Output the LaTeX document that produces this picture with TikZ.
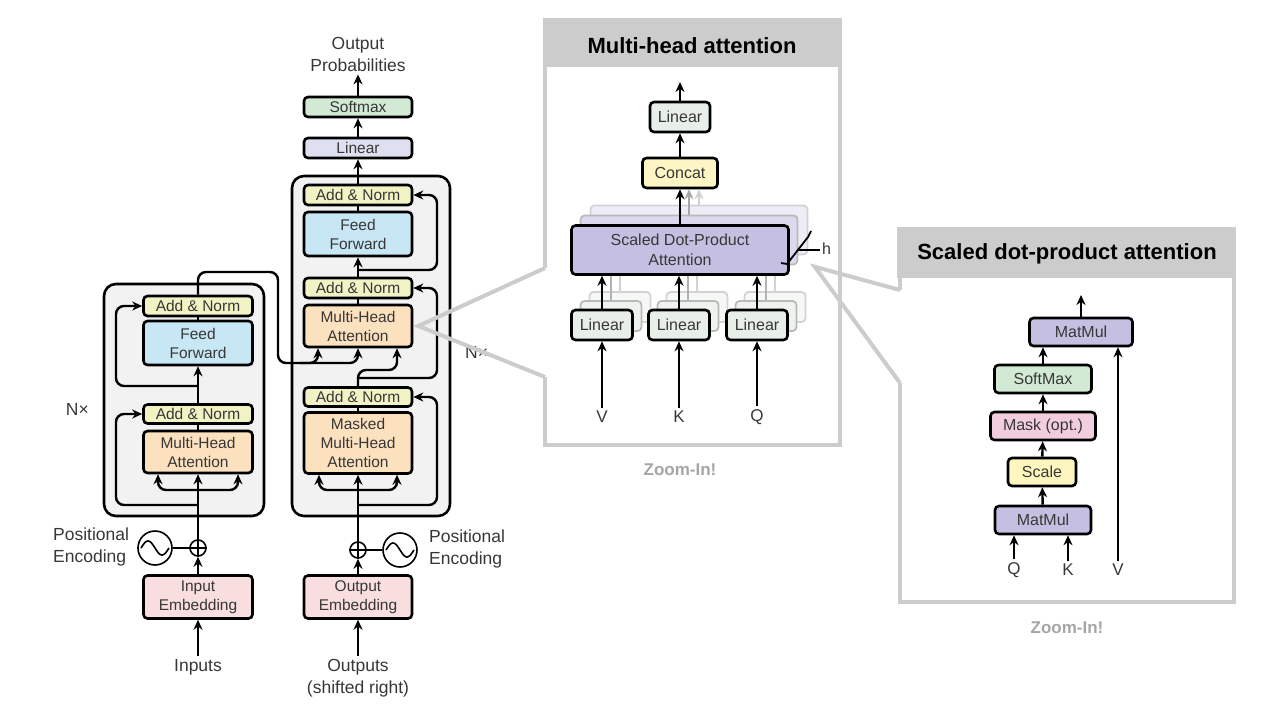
\documentclass[tikz,border=0pt]{standalone}
\usepackage{fontspec}
\setmainfont{Liberation Sans}
\usetikzlibrary{arrows.meta}

\definecolor{stackc}{RGB}{242,242,242}
\definecolor{addnormc}{RGB}{242,243,196}
\definecolor{ffwdc}{RGB}{199,231,245}
\definecolor{mhac}{RGB}{252,225,191}
\definecolor{embedc}{RGB}{248,222,222}
\definecolor{softmaxc}{RGB}{210,233,212}
\definecolor{declinc}{RGB}{222,223,240}
\definecolor{mhlinc}{RGB}{232,238,232}
\definecolor{concatc}{RGB}{253,246,196}
\definecolor{sdpac}{RGB}{197,192,226}
\definecolor{maskc}{RGB}{242,205,221}
\definecolor{scalec}{RGB}{253,246,190}
\definecolor{panelc}{RGB}{204,204,204}
\definecolor{txtc}{RGB}{55,55,55}
\definecolor{zoomc}{RGB}{165,165,165}

\begin{document}
\begin{tikzpicture}[x=1pt,y=-1pt,line width=2.4pt,
  >={Stealth[length=10pt,width=9pt]},
  lbl/.style={text=txtc,font=\fontsize{17.5}{22}\selectfont,inner sep=2pt},
  blk/.style={draw,line width=2.6pt,rounded corners=4pt,inner sep=0pt,align=center,
    text=txtc,font=\fontsize{15.5}{19}\selectfont},
  mhblk/.style={blk,font=\fontsize{16}{20}\selectfont},
  ghost/.style={draw=gray!55,line width=1.8pt,rounded corners=4pt,inner sep=0pt},
  stack/.style={draw,fill=stackc,line width=2.6pt,rounded corners=12pt},
  res/.style={->,rounded corners=8pt},
  panel/.style={draw=panelc,line width=4pt},
  title/.style={font=\fontsize{22}{25}\selectfont\bfseries,text=black},
  zoomtxt/.style={font=\fontsize{17}{20}\selectfont\bfseries,text=zoomc},
  thin/.style={line width=1.6pt}]
\useasboundingbox (0,0) rectangle (1280,717);

% encoder
\draw[stack] (104,284) rectangle (264,516);
\node[blk,fill=addnormc,minimum width=109pt,minimum height=20pt] (enc_an2) at (198,306) {Add \& Norm};
\node[blk,fill=ffwdc,minimum width=109pt,minimum height=44pt] (enc_ff) at (198,343) {Feed\\Forward};
\node[blk,fill=addnormc,minimum width=109pt,minimum height=19pt] (enc_an1) at (198,414) {Add \& Norm};
\node[blk,fill=mhac,minimum width=109pt,minimum height=42pt] (enc_mha) at (198,452) {Multi-Head\\Attention};
\node[blk,fill=embedc,minimum width=109pt,minimum height=43pt] (in_emb) at (198,597) {Input\\Embedding};
\node[circle,draw,thin,minimum size=16pt,inner sep=0pt] (enc_plus) at (198,548) {};
\node[circle,draw,thin,minimum size=34pt,inner sep=0pt] (enc_pe) at (155,548) {};
\draw[thin] (enc_plus.north) -- (enc_plus.south) (enc_plus.west) -- (enc_plus.east);
\draw[thin,shift={(enc_pe.center)}] plot[domain=-14:14,samples=40] (\x,{7*sin(12.86*\x)});
\node[lbl,anchor=west,align=left] (enc_pe_lbl) at (50,547) {Positional\\Encoding};
\node[lbl] (inputs) at (198,667) {Inputs};
\node[lbl,anchor=east] (enc_n) at (92,409) {N×};

\draw[->] (inputs) -- (in_emb);
\draw[->] (in_emb) -- (enc_plus);
\draw (enc_pe) -- (enc_plus);
\draw[->] (enc_plus) -- (enc_mha);
\coordinate (enc_split) at (198,490);
\draw[res] (enc_split) -| ([xshift=-40pt]enc_mha.south);
\draw[res] (enc_split) -| ([xshift=40pt]enc_mha.south);
\coordinate (enc_skip1) at (198,505);
\draw[res] (enc_skip1) -| (116,414) -- (enc_an1.west);
\draw (enc_mha) -- (enc_an1);
\draw[->] (enc_an1) -- (enc_ff);
\coordinate (enc_skip2) at (198,386);
\draw[res] (enc_skip2) -| (116,306) -- (enc_an2.west);
\draw (enc_ff) -- (enc_an2);

% decoder
\draw[stack] (292,176) rectangle (450,516);
\node[blk,fill=softmaxc,minimum width=108pt,minimum height=20pt] (softmax) at (358,107) {Softmax};
\node[blk,fill=declinc,minimum width=108pt,minimum height=20pt] (dlin) at (358,148) {Linear};
\node[blk,fill=addnormc,minimum width=108pt,minimum height=20pt] (dec_an3) at (358,195) {Add \& Norm};
\node[blk,fill=ffwdc,minimum width=108pt,minimum height=44pt] (dec_ff) at (358,234) {Feed\\Forward};
\node[blk,fill=addnormc,minimum width=108pt,minimum height=20pt] (dec_an2) at (358,288) {Add \& Norm};
\node[blk,fill=mhac,minimum width=108pt,minimum height=42pt] (dec_mha) at (358,326) {Multi-Head\\Attention};
\node[blk,fill=addnormc,minimum width=108pt,minimum height=19pt] (dec_an1) at (358,397) {Add \& Norm};
\node[blk,fill=mhac,minimum width=108pt,minimum height=61pt] (dec_mmha) at (358,443) {Masked\\Multi-Head\\Attention};
\node[blk,fill=embedc,minimum width=108pt,minimum height=43pt] (out_emb) at (358,597) {Output\\Embedding};
\node[circle,draw,thin,minimum size=16pt,inner sep=0pt] (dec_plus) at (358,550) {};
\node[circle,draw,thin,minimum size=34pt,inner sep=0pt] (dec_pe) at (400,550) {};
\draw[thin] (dec_plus.north) -- (dec_plus.south) (dec_plus.west) -- (dec_plus.east);
\draw[thin,shift={(dec_pe.center)}] plot[domain=-14:14,samples=40] (\x,{7*sin(12.86*\x)});
\node[lbl,anchor=west,align=left] (dec_pe_lbl) at (426,549) {Positional\\Encoding};
\node[lbl,align=center] (outputs) at (358,678) {Outputs\\(shifted right)};
\node[lbl,align=center] (probs) at (358,54) {Output\\Probabilities};
\node[lbl,anchor=west] (dec_n) at (462,352) {N×};

\draw[->] (outputs) -- (out_emb);
\draw[->] (out_emb) -- (dec_plus);
\draw (dec_pe) -- (dec_plus);
\draw[->] (dec_plus) -- (dec_mmha);
\coordinate (dec_split) at (358,490);
\draw[res] (dec_split) -| ([xshift=-39pt]dec_mmha.south);
\draw[res] (dec_split) -| ([xshift=39pt]dec_mmha.south);
\coordinate (dec_skip1) at (358,505);
\draw[res] (dec_skip1) -| (437,397) -- (dec_an1.east);
\draw (dec_mmha) -- (dec_an1);
\draw[res] (dec_an1.north) -- (358,370) -| ([xshift=39pt]dec_mha.south);
\coordinate (dec_skip2) at (358,378);
\draw[res] (dec_skip2) -| (437,288) -- (dec_an2.east);
\draw (dec_mha) -- (dec_an2);
\draw[->] (dec_an2) -- (dec_ff);
\coordinate (dec_skip3) at (358,270);
\draw[res] (dec_skip3) -| (437,195) -- (dec_an3.east);
\draw (dec_ff) -- (dec_an3);
\draw[->] (dec_an3) -- (dlin);
\draw[->] (dlin) -- (softmax);
\draw[->] (softmax) -- (probs);

% encoder output into the decoder
\draw[res] (enc_an2.north) |- (278,272) |- (318,363) -- ([xshift=-40pt]dec_mha.south);
\draw[res] (300,363) -| (dec_mha.south);

% multi-head attention panel
\fill[panelc] (543,18) rectangle (842,67);
\draw[panel] (545,268) |- (840,20) |- (545,445) -- (545,377);
\node[title] (mh_title) at (692,46) {Multi-head attention};
\node[mhblk,fill=mhlinc,minimum width=60pt,minimum height=30pt] (mh_lin) at (680,117) {Linear};
\node[mhblk,fill=concatc,minimum width=75pt,minimum height=30pt] (mh_cat) at (680,173) {Concat};
\node[ghost,draw=gray!35,fill=sdpac!30,minimum width=217pt,minimum height=49pt] (mh_sdpa_g2) at (699,230) {};
\node[ghost,fill=sdpac!60,minimum width=217pt,minimum height=49pt] (mh_sdpa_g1) at (689,240) {};
\node[mhblk,fill=sdpac,minimum width=217pt,minimum height=49pt] (mh_sdpa) at (680,250) {Scaled Dot-Product\\Attention};
\foreach \n/\x in {V/602,K/679,Q/757} {
  \node[ghost,draw=gray!35,fill=mhlinc!40,minimum width=61pt,minimum height=30pt] (mh_lin\n_g2) at (\x+18,307) {};
  \node[ghost,fill=mhlinc!70,minimum width=61pt,minimum height=30pt] (mh_lin\n_g1) at (\x+9,316) {};
  \node[mhblk,fill=mhlinc,minimum width=61pt,minimum height=30pt] (mh_lin\n) at (\x,325) {Linear};
  \node[lbl,font=\fontsize{17}{20}\selectfont] (mh_\n) at (\x,417) {\n};
  \draw[->] (mh_\n) -- (mh_lin\n);
  \draw[->] (mh_lin\n) -- (mh_lin\n |- mh_sdpa.south);
  \draw[gray!60,line width=1.8pt] (mh_lin\n_g1.north) -- (mh_lin\n_g1.north |- mh_sdpa.south);
  \draw[gray!35,line width=1.8pt] (mh_lin\n_g2.north) -- (mh_lin\n_g2.north |- mh_sdpa.south);
}
\draw[->,gray!35,line width=1.8pt] (mh_sdpa_g2.north) -- (mh_sdpa_g2.north |- mh_cat.south);
\draw[->,gray!70,line width=1.8pt] (mh_sdpa_g1.north) -- (mh_sdpa_g1.north |- mh_cat.south);
\draw[->] (mh_sdpa) -- (mh_cat);
\draw[->] (mh_cat) -- (mh_lin);
\coordinate (mh_out) at (680,82);
\draw[->] (mh_lin) -- (mh_out);
% h heads
\draw[line width=1.8pt] (781,263) -- (787,264) -- (808,237) -- (811,231);
\draw[line width=1.6pt] (797,250) -- (820,250);
\node[lbl,font=\fontsize{16}{20}\selectfont,anchor=west] (mh_h) at (819,249) {h};
\node[zoomtxt] (mh_zoom) at (680,470) {Zoom-In!};

% scaled dot-product attention panel
\fill[panelc] (897,227) rectangle (1236,278);
\draw[panel] (900,290) |- (1234,229) |- (900,602) -- (900,383);
\node[title] (sd_title) at (1067,254) {Scaled dot-product attention};
\node[mhblk,fill=sdpac,minimum width=103pt,minimum height=28pt] (sd_mm2) at (1081,332) {MatMul};
\node[mhblk,fill=softmaxc,minimum width=97pt,minimum height=28pt] (sd_sm) at (1043,379) {SoftMax};
\node[mhblk,fill=maskc,minimum width=105pt,minimum height=28pt] (sd_mask) at (1043,426) {Mask (opt.)};
\node[mhblk,fill=scalec,minimum width=68pt,minimum height=28pt] (sd_scale) at (1042,472) {Scale};
\node[mhblk,fill=sdpac,minimum width=96pt,minimum height=28pt] (sd_mm1) at (1043,520) {MatMul};
\node[lbl,font=\fontsize{17}{20}\selectfont] (sd_q) at (1014,570) {Q};
\node[lbl,font=\fontsize{17}{20}\selectfont] (sd_k) at (1068,570) {K};
\node[lbl,font=\fontsize{17}{20}\selectfont] (sd_v) at (1118,570) {V};
\draw[->] (sd_q) -- (sd_q |- sd_mm1.south);
\draw[->] (sd_k) -- (sd_k |- sd_mm1.south);
\draw[->] (sd_v) -- (sd_v |- sd_mm2.south);
\draw[->] (sd_mm1) -- (sd_scale);
\draw[->] (sd_scale) -- (sd_mask);
\draw[->] (sd_mask) -- (sd_sm);
\draw[->] (sd_sm) -- (sd_sm |- sd_mm2.south);
\coordinate (sd_out) at (1081,295);
\draw[->] (sd_mm2) -- (sd_out);
\node[zoomtxt] (sd_zoom) at (1067,628) {Zoom-In!};

% zoom-in lines
\coordinate (mh_gap_a) at (545,268);
\coordinate (mh_gap_b) at (545,377);
\draw[panel] (mh_gap_a) -- ([xshift=5pt]dec_mha.east) -- (mh_gap_b);
\coordinate (sd_gap_a) at (900,290);
\coordinate (sd_gap_b) at (900,383);
\draw[panel] (sd_gap_a) -- ([shift={(25pt,9pt)}]mh_sdpa.south east) -- (sd_gap_b);
\end{tikzpicture}
\end{document}
